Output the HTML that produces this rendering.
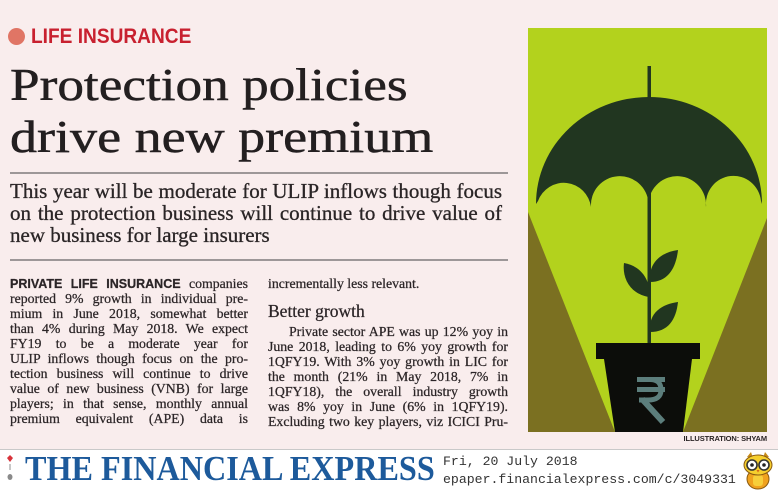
<!DOCTYPE html>
<html><head><meta charset="utf-8">
<style>
*{margin:0;padding:0;box-sizing:border-box}
html,body{width:778px;height:490px;overflow:hidden;background:#f9eded}
body{position:relative;font-family:"Liberation Serif",serif;color:#2a2425}
.abs{position:absolute}
.hl{position:absolute;left:10px;font-size:46px;line-height:46px;white-space:nowrap;transform-origin:0 0;color:#231f20;-webkit-text-stroke:0.5px #231f20}
.deck{position:absolute;left:10px;top:180px;width:492px;font-size:21px;line-height:22px;color:#2a2526;-webkit-text-stroke:0.3px #2a2526}
.deck div{height:22px;text-align:justify;text-align-last:justify}
.deck div.nj{text-align-last:left}
.col{position:absolute;font-size:13.8px;line-height:15px;color:#2b2527;-webkit-text-stroke:0.25px #2b2527}
.col div{height:15px;text-align:justify;text-align-last:justify}
.col div.nj{text-align-last:left}
.sans{font-family:"Liberation Sans",sans-serif;font-weight:bold}
.rule{position:absolute;left:10px;width:498px;height:2px;background:#9d9798}
</style></head><body>

<!-- section label -->
<div class="abs" style="left:8px;top:28px;width:17px;height:17px;border-radius:50%;background:#e07565"></div>
<div class="abs sans" style="left:31px;top:26px;font-size:21px;line-height:21px;color:#c8202f;white-space:nowrap;transform:scaleX(.91);transform-origin:0 0">LIFE INSURANCE</div>

<!-- headline -->
<div class="hl" style="top:61.5px;transform:scaleX(1.157)">Protection policies</div>
<div class="hl" style="top:113.5px;transform:scaleX(1.175)">drive new premium</div>

<div class="rule" style="top:172px"></div>

<div class="deck">
<div>This year will be moderate for ULIP inflows though focus</div>
<div>on the protection business will continue to drive value of</div>
<div class="nj">new business for large insurers</div>
</div>

<div class="rule" style="top:259px"></div>

<!-- column 1 -->
<div class="col" style="left:10px;top:276px;width:238px">
<div><span class="sans" style="font-size:12.5px">PRIVATE LIFE INSURANCE</span> companies</div>
<div>reported 9% growth in individual pre-</div>
<div>mium in June 2018, somewhat better</div>
<div>than 4% during May 2018. We expect</div>
<div>FY19 to be a moderate year for</div>
<div>ULIP inflows though focus on the pro-</div>
<div>tection business will continue to drive</div>
<div>value of new business (VNB) for large</div>
<div>players; in that sense, monthly annual</div>
<div>premium equivalent (APE) data is</div>
</div>

<!-- column 2 -->
<div class="col" style="left:268px;top:276px;width:240px">
<div class="nj">incrementally less relevant.</div>
</div>
<div class="abs" style="left:268px;top:301px;font-size:17.5px;line-height:20px;color:#2b2527;white-space:nowrap;-webkit-text-stroke:0.25px #2b2527">Better growth</div>
<div class="col" style="left:268px;top:324px;width:240px">
<div style="padding-left:21px">Private sector APE was up 12% yoy in</div>
<div>June 2018, leading to 6% yoy growth for</div>
<div>1QFY19. With 3% yoy growth in LIC for</div>
<div>the month (21% in May 2018, 7% in</div>
<div>1QFY18), the overall industry growth</div>
<div>was 8% yoy in June (6% in 1QFY19).</div>
<div>Excluding two key players, viz ICICI Pru-</div>
</div>

<!-- illustration -->
<svg class="abs" style="left:528px;top:28px" width="239" height="404" viewBox="528 28 239 404">
<rect x="528" y="28" width="239" height="404" fill="#b3d21d"/>
<polygon points="528,212 615,432 528,432" fill="#7b7021"/>
<polygon points="767,218 683,432 767,432" fill="#7b7021"/>
<rect x="647.5" y="66" width="3.5" height="280" fill="#213620"/>
<path d="M536,204 A113,107 0 0 1 762,204 L761,201 A27.5,28 0 0 0 706,207 A28.5,28.5 0 0 0 648.5,203 A28.5,28.5 0 0 0 591,207 A27.5,28 0 0 0 538,201 Z" fill="#213620"/>
<path d="M650,282 C648,262 662,252 678,250 C676,268 668,282 650,282 Z" fill="#213620"/>
<path d="M649,297 C630,294 622,278 624,263 C641,266 651,280 649,297 Z" fill="#213620"/>
<path d="M650,332 C648,313 662,304 678,302 C676,320 668,332 650,332 Z" fill="#213620"/>
<rect x="596" y="343" width="104" height="16" fill="#0c0d0a"/>
<polygon points="604,359 692,359 683,432 615,432" fill="#0c0d0a"/>
<rect x="637" y="377" width="28" height="5" fill="#5c7e7c"/>
<rect x="637" y="387" width="28" height="5" fill="#5c7e7c"/>
<path d="M640,379.5 H650 Q661,379.5 661,390 Q661,400 648,400 H639" stroke="#5c7e7c" stroke-width="5" fill="none"/>
<path d="M642,399 L663,422" stroke="#5c7e7c" stroke-width="6" fill="none"/>
</svg>
<div class="abs sans" style="left:600px;width:167px;top:434px;font-size:7.5px;line-height:9px;text-align:right;color:#2a2425;letter-spacing:-0.1px">ILLUSTRATION: SHYAM</div>

<!-- footer -->
<div class="abs" style="left:0;top:449px;width:778px;height:41px;background:#fff;border-top:1px solid #c9c9c9"></div>
<svg class="abs" style="left:4px;top:453px" width="14" height="34" viewBox="0 0 14 34">
<path d="M6,2 L9,5 L6,9 L3,5 Z" fill="#d8323a"/>
<rect x="5" y="11" width="2" height="6" fill="#c7c7c7"/>
<ellipse cx="6" cy="24" rx="2.5" ry="3" fill="#8a8a8a"/>
</svg>
<div class="abs" style="left:25px;top:450.7px;font-size:35px;line-height:35px;font-weight:bold;color:#1d5a9b;white-space:nowrap;transform:scaleX(.92);transform-origin:0 0">THE FINANCIAL EXPRESS</div>
<div class="abs" style="left:443px;top:454px;font-family:'Liberation Mono',monospace;font-size:13.2px;line-height:15px;color:#333;white-space:nowrap">Fri, 20 July 2018</div>
<div class="abs" style="left:443px;top:472px;font-family:'Liberation Mono',monospace;font-size:13.2px;line-height:15px;color:#333;white-space:nowrap">epaper.financialexpress.com/c/3049331</div>
<svg class="abs" style="left:741px;top:451px" width="34" height="39" viewBox="0 0 34 39">
<path d="M6,6 L10,1 L12,7 Z M28,6 L24,1 L22,7 Z" fill="#c78a18"/>
<ellipse cx="17" cy="28" rx="11" ry="10" fill="#f0a21e" stroke="#8a5a10" stroke-width="1"/>
<rect x="12" y="24" width="10" height="11" rx="3" fill="#f7cf3a"/>
<ellipse cx="17" cy="14" rx="14" ry="10" fill="#f6cf2d" stroke="#8a5a10" stroke-width="1"/>
<circle cx="11" cy="14" r="5" fill="#fff" stroke="#333" stroke-width="1.6"/>
<circle cx="23" cy="14" r="5" fill="#fff" stroke="#333" stroke-width="1.6"/>
<circle cx="11" cy="14" r="1.8" fill="#222"/>
<circle cx="23" cy="14" r="1.8" fill="#222"/>
<path d="M15.5,19 L18.5,19 L17,21.5 Z" fill="#d9661a"/>
</svg>
</body></html>
